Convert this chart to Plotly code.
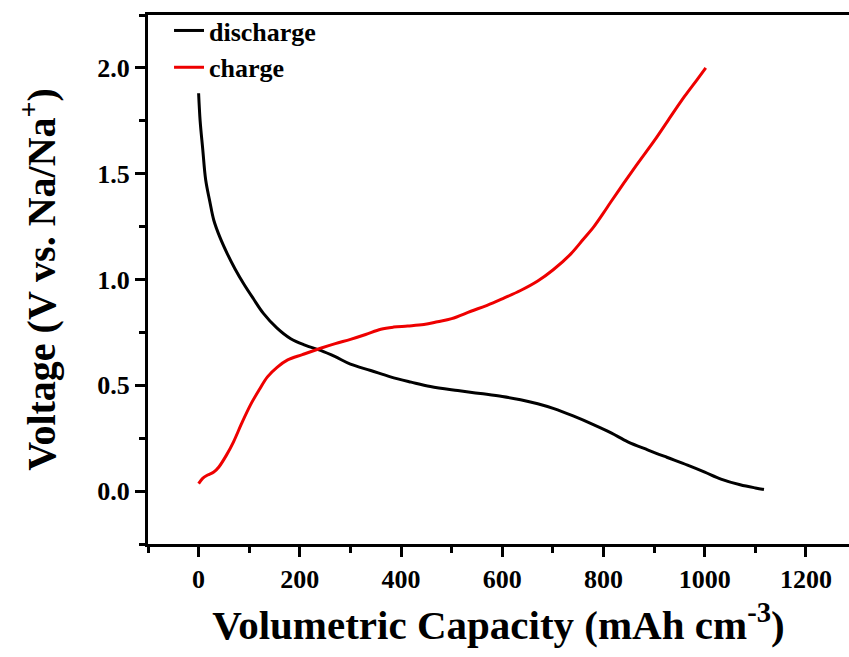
import plotly.graph_objects as go

# Discharge curve (capacity mAh cm^-3, voltage V)
discharge_cap = [0, 3, 8, 14, 22, 30, 42, 57, 72, 89, 108, 128, 155, 182, 210, 241, 270, 300, 340, 379, 420,
                 458, 512, 557, 600, 636, 670, 702, 740, 781, 815, 848, 887, 925, 966, 1000, 1032, 1070, 1100, 1117]
discharge_v = [1.88, 1.75, 1.62, 1.47, 1.37, 1.28, 1.20, 1.12, 1.05, 0.98, 0.91, 0.84, 0.77, 0.72, 0.69, 0.665, 0.635, 0.60,
               0.57, 0.54, 0.515, 0.494, 0.475, 0.461, 0.447, 0.432, 0.413, 0.39, 0.355, 0.313, 0.275, 0.233, 0.195, 0.16,
               0.123, 0.09, 0.057, 0.03, 0.015, 0.008]

# Charge curve
charge_cap = [0, 8, 18, 30, 40, 55, 69, 85, 103, 120, 136, 155, 176, 205, 241, 270, 300, 330, 360, 385, 413, 445,
              472, 500, 538, 570, 603, 636, 670, 700, 735, 760, 781, 800, 814, 840, 868, 900, 927, 960, 985, 1002]
charge_v = [0.035, 0.06, 0.076, 0.09, 0.114, 0.17, 0.233, 0.32, 0.41, 0.48, 0.54, 0.585, 0.62, 0.645, 0.675, 0.697, 0.717,
            0.74, 0.765, 0.775, 0.78, 0.787, 0.80, 0.815, 0.85, 0.878, 0.912, 0.948, 0.993, 1.045, 1.12, 1.19, 1.25, 1.315,
            1.365, 1.455, 1.55, 1.655, 1.75, 1.865, 1.945, 2.0]

font_family = "Liberation Serif, Times New Roman, serif"

fig = go.Figure()
fig.add_trace(go.Scatter(x=discharge_cap, y=discharge_v, mode="lines", name="discharge",
                         line=dict(color="black", width=3, shape="spline", smoothing=1.0)))
fig.add_trace(go.Scatter(x=charge_cap, y=charge_v, mode="lines", name="charge",
                         line=dict(color="#ee0000", width=3, shape="spline", smoothing=1.0)))

fig.update_layout(
    width=849, height=657,
    margin=dict(l=148, r=0, t=15, b=113),
    plot_bgcolor="white", paper_bgcolor="white",
    font=dict(family=font_family, color="black"),
    showlegend=True,
    legend=dict(x=0.03, y=1.015, xanchor="left", yanchor="top", bgcolor="rgba(0,0,0,0)",
                font=dict(size=26, family=font_family, color="black", weight="bold"),
                tracegroupgap=0),
    xaxis=dict(
        range=[-100, 1285], tickmode="array",
        tickvals=[0, 200, 400, 600, 800, 1000, 1200],
        ticktext=["0", "200", "400", "600", "800", "1000", "1200"],
        ticks="outside", ticklen=10, tickwidth=2.5, tickcolor="black",
        minor=dict(tickmode="array", tickvals=[-100, 100, 300, 500, 700, 900, 1100], ticks="outside", ticklen=6, tickwidth=2.5, tickcolor="black"),
        showline=True, linewidth=3, linecolor="black", mirror=True,
        showgrid=False, zeroline=False,
        tickfont=dict(size=26, family=font_family, color="black", weight="bold"),
        title=dict(text="Volumetric Capacity (mAh cm<sup>-3</sup>)",
                   font=dict(size=41, family=font_family, color="black", weight="bold"), standoff=18),
    ),
    yaxis=dict(
        range=[-0.25, 2.25], tickmode="array",
        tickvals=[0.0, 0.5, 1.0, 1.5, 2.0],
        ticktext=["0.0", "0.5", "1.0", "1.5", "2.0"],
        ticks="outside", ticklen=10, tickwidth=2.5, tickcolor="black",
        minor=dict(tickmode="array", tickvals=[-0.25, 0.25, 0.75, 1.25, 1.75, 2.25], ticks="outside", ticklen=6, tickwidth=2.5, tickcolor="black"),
        showline=True, linewidth=3, linecolor="black", mirror=False,
        showgrid=False, zeroline=False,
        tickfont=dict(size=26, family=font_family, color="black", weight="bold"),
        title=dict(text="Voltage (V vs. Na/Na<sup>+</sup>)",
                   font=dict(size=40, family=font_family, color="black", weight="bold"), standoff=30),
    ),
)

fig.write_html("out.html")
